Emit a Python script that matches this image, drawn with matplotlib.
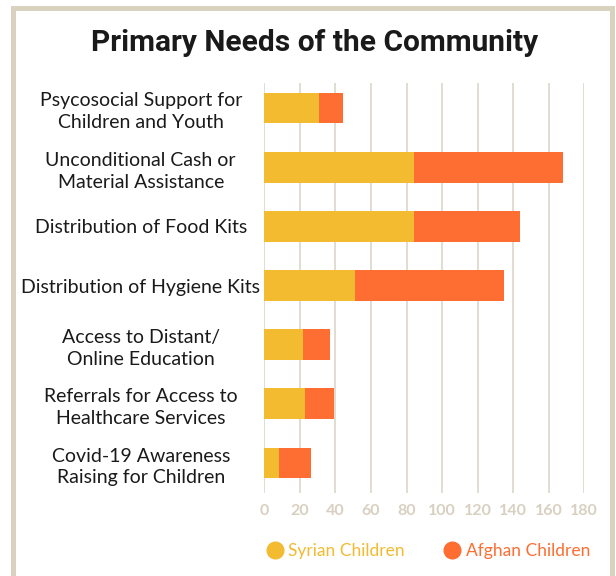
import matplotlib
matplotlib.use("Agg")
import matplotlib.pyplot as plt
from matplotlib.patches import Rectangle
from matplotlib.lines import Line2D

categories = [
    "Psycosocial Support for\nChildren and Youth",
    "Unconditional Cash or\nMaterial Assistance",
    "Distribution of Food Kits",
    "Distribution of Hygiene Kits",
    "Access to Distant/\nOnline Education",
    "Referrals for Access to\nHealthcare Services",
    "Covid-19 Awareness\nRaising for Children",
]
syrian = [31, 84, 84, 51, 22, 23, 8]
afghan = [13, 84, 60, 84, 15, 16, 18]
xticks = [0, 20, 40, 60, 80, 100, 120, 140, 160, 180]
series_names = ["Syrian Children", "Afghan Children"]

YELLOW = "#f2bb30"
ORANGE = "#fe6d31"
BEIGE = "#d8d2bf"
TICKC = "#d8d0c0"

W, H = 616, 576
fig = plt.figure(figsize=(W / 100, H / 100), dpi=100, facecolor="white")

# frame
fig.patches.append(Rectangle((12.5 / W, -0.05), (612 - 12.5) / W, 1 - 8.5 / H + 0.05,
                             transform=fig.transFigure, fill=False,
                             edgecolor=BEIGE, linewidth=3.6))

ax = fig.add_axes([264.3 / W, 1 - 493 / H, 320 / W, 410 / H])
ax.set_facecolor("none")
pos = list(range(len(categories)))
ax.barh(pos, syrian, height=0.52, color=YELLOW, zorder=3)
ax.barh(pos, afghan, left=syrian, height=0.52, color=ORANGE, zorder=3)
ax.set_xlim(0, 180)
ax.set_ylim(6.507, -0.4225)
ax.set_xticks(xticks)
ax.set_xticklabels([str(t) for t in xticks], fontsize=11.5, color=TICKC,
                   family="Lato", fontweight="bold")
ax.grid(axis="x", color="#ddd7cb", linewidth=1.2, zorder=0)
ax.tick_params(axis="x", length=0, pad=8)
for s in ax.spines.values():
    s.set_visible(False)
ax.set_yticks(pos)
ax.set_yticklabels(categories, fontsize=14, family="Lato", color="#1a1a1a",
                   ha="center", multialignment="center", linespacing=1.35)
ax.tick_params(axis="y", length=0, pad=89)

fig.text(315 / W, 1 - 43 / H, "Primary Needs of the Community", ha="center", va="center",
         fontsize=21.5, fontweight="bold", family="Roboto", color="#1a1a1a")

# legend
handles = [Line2D([], [], marker="o", linestyle="none", markersize=12, color=YELLOW),
           Line2D([], [], marker="o", linestyle="none", markersize=12, color=ORANGE)]
leg = fig.legend(handles, series_names, loc="center", bbox_to_anchor=(428 / W, 1 - 551 / H),
                 ncol=2, frameon=False, prop={"family": "Lato", "size": 12.5},
                 handletextpad=0.3, columnspacing=2.2, handlelength=1.0)
for t, c in zip(leg.get_texts(), [YELLOW, ORANGE]):
    t.set_color(c)

fig.savefig("out.png", dpi=100, facecolor="white")
